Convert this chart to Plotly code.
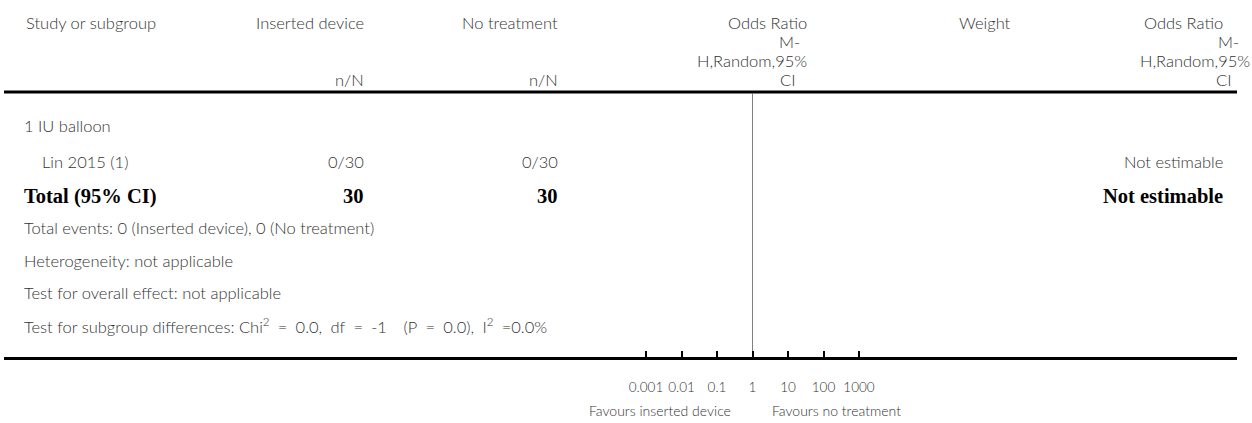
import math
import plotly.graph_objects as go

# ---------------- data ----------------
col_headers = ["Study or subgroup", "Inserted device", "No treatment", "Odds Ratio", "Weight", "Odds Ratio"]
or_method_lines = ["M-", "H,Random,95%", "CI"]
nN_label = "n/N"
subgroup_name = "1 IU balloon"
study_names = ["Lin 2015 (1)"]
events_device = [0]
total_device = [30]
events_none = [0]
total_none = [30]
study_effect = ["Not estimable"]
total_label = "Total (95% CI)"
total_effect = "Not estimable"
stat_lines = [
    "Total events: 0 (Inserted device), 0 (No treatment)",
    "Heterogeneity: not applicable",
    "Test for overall effect: not applicable",
    "Test for subgroup differences: Chi<sup>2</sup>\u2002=\u20020.0,\u2002df\u2002=\u2002-1\u2002\u2002(P\u2002=\u20020.0),\u2002I<sup>2</sup>\u2002=0.0%",
]
tick_vals = [0.001, 0.01, 0.1, 1, 10, 100, 1000]
tick_text = ["0.001", "0.01", "0.1", "1", "10", "100", "1000"]
null_value = 1
favours_left = "Favours inserted device"
favours_right = "Favours no treatment"

# ---------------- layout constants ----------------
W, H = 1252, 423
FONT = "Lato"
SERIF = "Liberation Serif"
TXT = "#333333"
fs = 16.5
fs_small = 14
fs_bold = 20.5

x_left = 22
x_dev = 366
x_none = 560
x_effect = 1225
line_x0, line_x1 = 4, 1237
y_header_line = 92
y_bottom_line = 357
px_null = 752.5
px_per_decade = 35.5

fig = go.Figure()

ann = []
def add(text, x, y, xa="left", size=fs, font=FONT, bold=False, color=TXT):
    ann.append(dict(text=text, x=x, y=y, xref="x", yref="y", xanchor=xa, yanchor="middle",
                    showarrow=False,
                    font=dict(family=font, size=size, color=color,
                              weight="bold" if bold else 300)))

# header
y_h1, y_h2, y_h3, y_h4 = 23, 42, 61, 80
add(col_headers[0], 24, y_h1)
add(col_headers[1], x_dev, y_h1, "right")
add(col_headers[2], x_none, y_h1, "right")
add(col_headers[4], 985, y_h1, "center")
add(nN_label, x_dev, y_h4, "right")
add(nN_label, x_none, y_h4, "right")
# left OR header block
add(col_headers[3], 809, y_h1, "right")
add(or_method_lines[0], 789, y_h2, "center")
add(or_method_lines[1], 809, y_h3, "right")
add(or_method_lines[2], 787, y_h4, "center")
# right OR header block
add(col_headers[5], 1225, y_h1, "right")
add(or_method_lines[0], 1241, y_h2, "right")
add(or_method_lines[1], 1252, y_h3, "right")
add(or_method_lines[2], 1233, y_h4, "right")

# body
y_sub, y_study, y_total = 126, 162, 196
add(subgroup_name, x_left, y_sub)
for i, name in enumerate(study_names):
    yy = y_study + i * 34
    add(name, 40, yy)
    add(f"{events_device[i]}/{total_device[i]}", x_dev, yy, "right")
    add(f"{events_none[i]}/{total_none[i]}", x_none, yy, "right")
    add(study_effect[i], x_effect, yy, "right")

add(total_label, x_left, y_total, size=fs_bold, font=SERIF, bold=True, color="#000")
add(str(sum(total_device)), x_dev, y_total, "right", size=fs_bold, font=SERIF, bold=True, color="#000")
add(str(sum(total_none)), x_none, y_total, "right", size=fs_bold, font=SERIF, bold=True, color="#000")
add(total_effect, x_effect, y_total, "right", size=fs_bold, font=SERIF, bold=True, color="#000")

for i, s in enumerate(stat_lines):
    add(s, x_left, 228 + i * 32.7)

# favours labels
add(favours_left, 733, 410, "right", size=fs_small)
add(favours_right, 770, 410, "left", size=fs_small)

# header rule
shapes = [dict(type="line", xref="x", yref="y", x0=line_x0, x1=line_x1,
               y0=y_header_line, y1=y_header_line, line=dict(color="black", width=3))]

# forest axis (log scale)
log_left = (line_x0 - px_null) / px_per_decade + math.log10(null_value)
log_right = (line_x1 - px_null) / px_per_decade + math.log10(null_value)

fig.add_trace(go.Scatter(x=[null_value, null_value], y=[0, 1], xaxis="x2", yaxis="y2",
                         mode="lines", line=dict(color="#808080", width=1),
                         hoverinfo="skip", showlegend=False))

fig.update_layout(
    width=W, height=H,
    margin=dict(l=0, r=0, t=0, b=0),
    paper_bgcolor="white", plot_bgcolor="rgba(0,0,0,0)",
    showlegend=False, hovermode=False,
    xaxis=dict(range=[0, W], domain=[0, 1], visible=False, fixedrange=True),
    yaxis=dict(range=[H, 0], domain=[0, 1], visible=False, fixedrange=True),
    xaxis2=dict(type="log", range=[log_left, log_right],
                domain=[line_x0 / W, line_x1 / W], anchor="y2",
                showline=True, linewidth=3, linecolor="black",
                ticks="inside", ticklen=6, tickwidth=2, tickcolor="black",
                tickvals=tick_vals, ticktext=tick_text,
                tickfont=dict(family=FONT, size=13.5, color=TXT, weight=300),
                ticklabelstandoff=16,
                showgrid=False, zeroline=False, fixedrange=True),
    yaxis2=dict(range=[0, 1], domain=[(H - y_bottom_line) / H, (H - y_header_line - 1.5) / H],
                anchor="x2", visible=False, fixedrange=True),
    annotations=ann,
    shapes=shapes,
)

fig.write_html("out.html")
